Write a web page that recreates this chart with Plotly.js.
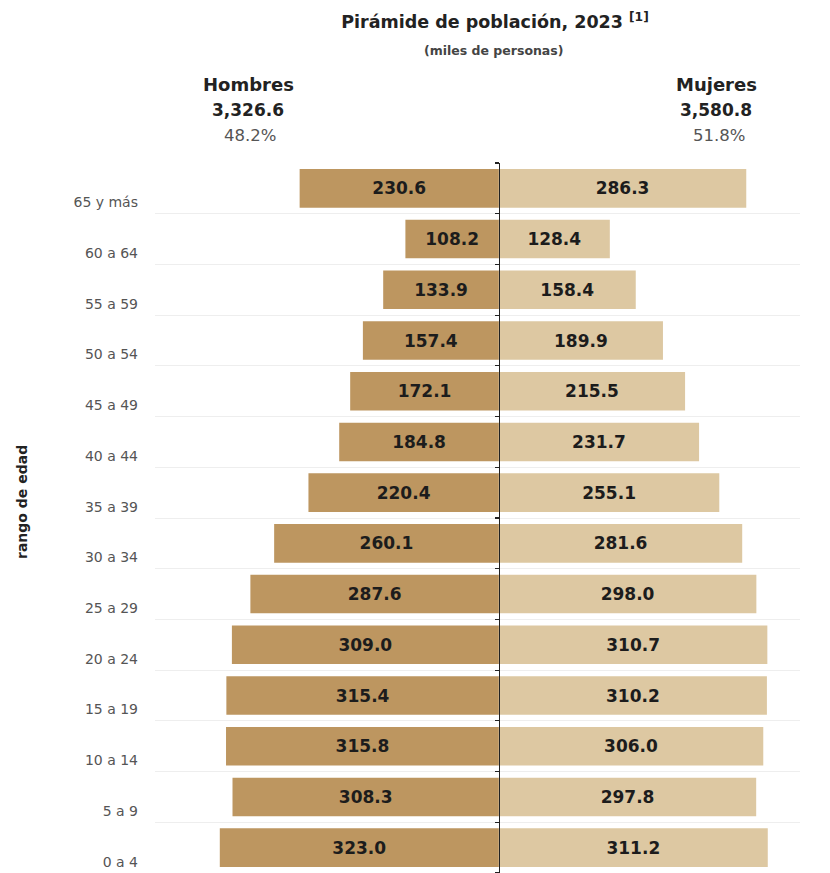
<!DOCTYPE html>
<html>
<head>
<meta charset="utf-8">
<script src="https://cdn.plot.ly/plotly-3.0.1.min.js"></script>
<style>html,body{margin:0;padding:0;background:#fff;}#chart{width:830px;height:873px;}</style>
</head>
<body>
<div id="chart"></div>
<script>
// Data (bottom to top)
const categories = ['0 a 4','5 a 9','10 a 14','15 a 19','20 a 24','25 a 29','30 a 34','35 a 39','40 a 44','45 a 49','50 a 54','55 a 59','60 a 64','65 y más'];
const hombres = [323.0, 308.3, 315.8, 315.4, 309.0, 287.6, 260.1, 220.4, 184.8, 172.1, 157.4, 133.9, 108.2, 230.6];
const mujeres = [311.2, 297.8, 306.0, 310.2, 310.7, 298.0, 281.6, 255.1, 231.7, 215.5, 189.9, 158.4, 128.4, 286.3];
const totalHombres = '3,326.6';
const totalMujeres = '3,580.8';
const pctHombres = '48.2%';
const pctMujeres = '51.8%';

const FONT = 'DejaVu Sans, sans-serif';
const xMin = -398, xMax = 348.5;
const centerPos = (0 - xMin) / (xMax - xMin);

const fmt = v => v.toFixed(1);

const barText = {family: FONT, size: 17, color: '#1c1c1c', weight: 700};

const traceH = {
  type: 'bar', orientation: 'h',
  x: hombres.map(v => -v), y: categories,
  yaxis: 'y',
  text: hombres.map(fmt),
  textposition: 'inside', insidetextanchor: 'middle', constraintext: 'none',
  textfont: barText,
  marker: {color: '#BD9660'},
  width: 0.76, hoverinfo: 'skip', name: 'Hombres'
};
const traceM = {
  type: 'bar', orientation: 'h',
  x: mujeres, y: categories,
  yaxis: 'y2',
  text: mujeres.map(fmt),
  textposition: 'inside', insidetextanchor: 'middle', constraintext: 'none',
  textfont: barText,
  marker: {color: '#DDC8A2'},
  width: 0.76, hoverinfo: 'skip', name: 'Mujeres'
};

const L = 155, R = 30, T = 163, B = 0, W = 830, H = 873;
const px = x => (x - L) / (W - L - R);
const py = y => (H - B - y) / (H - T - B);

function ann(text, x, y, size, color, extra) {
  return Object.assign({text: text, x: px(x), y: py(y), xref: 'paper', yref: 'paper', showarrow: false,
    font: {family: FONT, size: size, color: color}, xanchor: 'center', yanchor: 'middle'}, extra || {});
}

const layout = {
  width: W, height: H,
  margin: {l: L, r: R, t: T, b: B, pad: 0},
  paper_bgcolor: '#fff', plot_bgcolor: '#fff',
  showlegend: false,
  barmode: 'relative',
  font: {family: FONT, color: '#333'},
  title: {
    text: '<b>Pirámide de población, 2023 <sup>[1]</sup></b>',
    font: {family: FONT, size: 17.5, color: '#222'},
    x: 495 / W, xref: 'container', xanchor: 'center',
    y: 1 - 22 / H, yref: 'container', yanchor: 'middle'
  },
  xaxis: {
    range: [xMin, xMax], showgrid: false, zeroline: false,
    showticklabels: false, ticks: '', fixedrange: true
  },
  yaxis: {
    type: 'category', categoryorder: 'array', categoryarray: categories,
    tickson: 'boundaries', showgrid: true, gridcolor: '#eeeeee', gridwidth: 1,
    ticks: '', ticklabelshift: 14, ticklabelstandoff: 16,
    tickfont: {family: FONT, size: 14, color: '#555'},
    zeroline: false, showline: false, fixedrange: true
  },
  yaxis2: {
    type: 'category', categoryorder: 'array', categoryarray: categories,
    overlaying: 'y', anchor: 'free', position: centerPos, side: 'left',
    tickson: 'boundaries', ticks: 'outside', ticklen: 4, tickwidth: 1.2, tickcolor: '#222',
    showline: true, linecolor: '#222', linewidth: 1.5,
    showticklabels: false, showgrid: false, zeroline: false, fixedrange: true
  },
  annotations: [
    ann('<b>(miles de personas)</b>', 493, 50, 12.5, '#444'),
    ann('<b>Hombres</b>', 248, 85, 18, '#222'),
    ann('<b>' + totalHombres + '</b>', 248, 110, 17, '#222'),
    ann(pctHombres, 250, 135, 16.5, '#555'),
    ann('<b>Mujeres</b>', 716, 85, 18, '#222'),
    ann('<b>' + totalMujeres + '</b>', 716, 110, 17, '#222'),
    ann(pctMujeres, 719, 135, 16.5, '#555'),
    ann('<b>rango de edad</b>', 22, 502, 14, '#222', {textangle: -90})
  ]
};

Plotly.newPlot('chart', [traceH, traceM], layout, {displayModeBar: false, staticPlot: true});
</script>
</body>
</html>
